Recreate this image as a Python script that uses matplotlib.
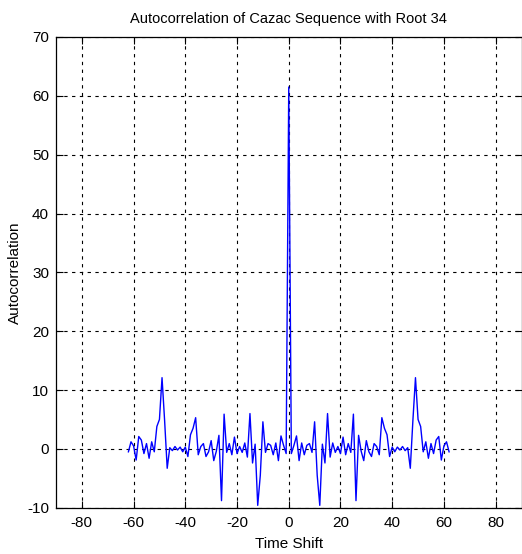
import numpy as np
import matplotlib
matplotlib.use("Agg")
import matplotlib.pyplot as plt

# 数据：自相关（时延 -62..62）
lags = np.arange(-62, 63)
autocorr = [
    -0.5, 1.2, 0.5, -1.9, 2.1, 1.5, -0.8, 0.9, -1.6, 1.2,
    -0.5, 3.8, 5.0, 12.1, 4.8, -3.3, 0.2, -0.3, 0.4, -0.2,
    0.3, -0.5, 0.3, -1.3, 2.4, 3.5, 5.3, -1.0, 0.4, 0.9,
    -1.3, -0.5, 1.4, -2.0, -0.4, 2.3, -8.8, 5.9, -0.6, 0.9,
    -1.0, 2.0, -0.8, 0.4, -0.6, 1.0, -1.4, 6.0, -2.4, 0.8,
    -9.6, -4.5, 4.6, -0.6, 0.9, 0.6, -1.0, 1.0, -2.0, 2.2,
    0.6, -0.8,
    61.5,
    -0.8, 0.6, 2.2, -2.0, 1.0, -1.0, 0.6, 0.9, -0.6, 4.6,
    -4.5, -9.6, 0.8, -2.4, 6.0, -1.4, 1.0, -0.6, 0.4, -0.8,
    2.0, -1.0, 0.9, -0.6, 5.9, -8.8, 2.3, -0.4, -2.0, 1.4,
    -0.5, -1.3, 0.9, 0.4, -1.0, 5.3, 3.5, 2.4, -1.3, 0.3,
    -0.5, 0.3, -0.2, 0.4, -0.3, 0.2, -3.3, 4.8, 12.1, 5.0,
    3.8, -0.5, 1.2, -1.6, 0.9, -0.8, 1.5, 2.1, -1.9, 0.5,
    1.2, -0.5,
]
xticks = [-80, -60, -40, -20, 0, 20, 40, 60, 80]
yticks = [-10, 0, 10, 20, 30, 40, 50, 60, 70]

plt.rcParams['font.family'] = ['Liberation Sans', 'DejaVu Sans']
plt.rcParams['axes.unicode_minus'] = False

fig = plt.figure(figsize=(5.22, 5.54), dpi=100)
ax = fig.add_axes([56 / 522, 1 - 507.7 / 554, 465.5 / 522, 470.7 / 554])

ax.plot(lags, autocorr, color='#0000ff', linewidth=1.0)

ax.set_xlim(-90, 90)
ax.set_ylim(-10, 70)
ax.set_xticks(xticks)
ax.set_yticks(yticks)
ax.grid(True, color='black', linestyle=(0, (3, 4)), linewidth=0.8)
ax.tick_params(direction='in', top=True, right=True, length=5, labelsize=11)
ax.tick_params(axis='y', pad=5)
ax.tick_params(axis='x', pad=6)
for s in ax.spines.values():
    s.set_linewidth(0.9)

ax.set_title("Autocorrelation of Cazac Sequence with Root 34", fontsize=10.5, pad=10)
ax.set_xlabel("Time Shift", fontsize=11)
ax.set_ylabel("Autocorrelation", fontsize=11)
ax.xaxis.set_label_coords(0.5, -0.062)
ax.yaxis.set_label_coords(-0.074, 0.5)

fig.savefig("out.png", dpi=100, facecolor='white')
